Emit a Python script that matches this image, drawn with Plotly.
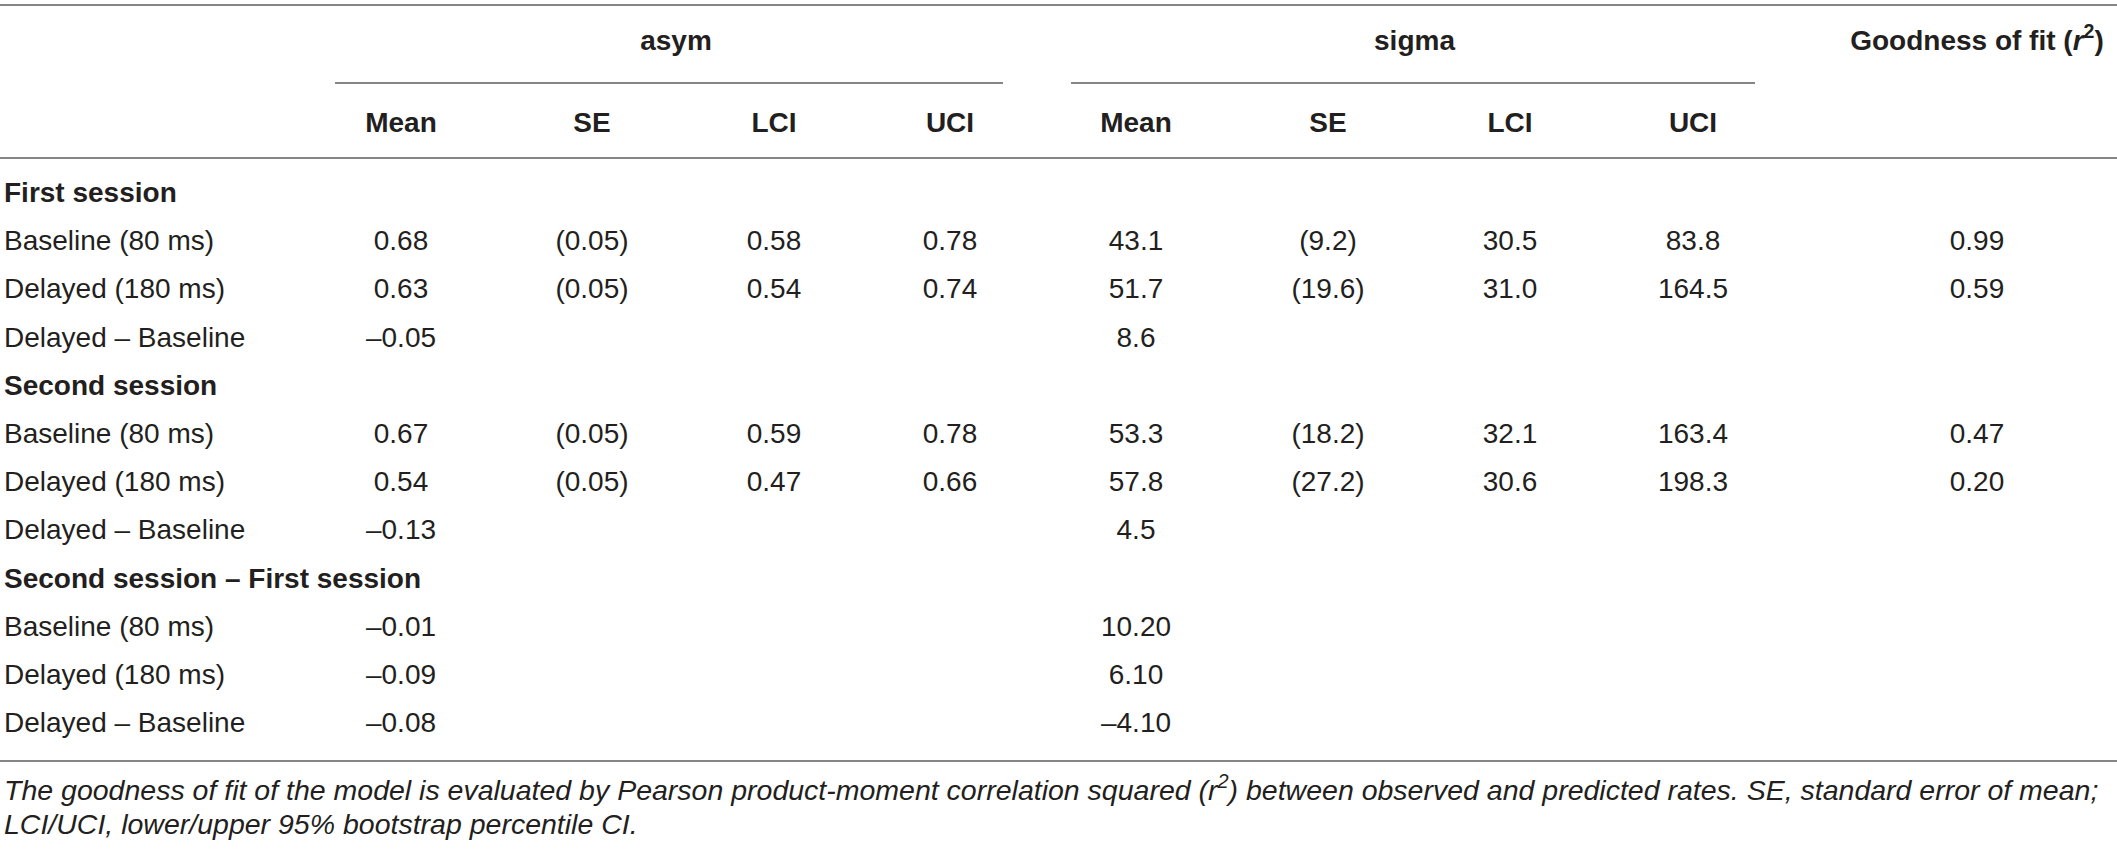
import plotly.graph_objects as go

# table content
row_labels = [
    "<b>First session</b>",
    "Baseline (80 ms)",
    "Delayed (180 ms)",
    "Delayed – Baseline",
    "<b>Second session</b>",
    "Baseline (80 ms)",
    "Delayed (180 ms)",
    "Delayed – Baseline",
    "<b>Second session – First session</b>",
    "Baseline (80 ms)",
    "Delayed (180 ms)",
    "Delayed – Baseline",
]
group_labels = ["asym", "sigma"]
sub_headers = ["Mean", "SE", "LCI", "UCI"]
gof_header = "Goodness of fit (<i>r</i><sup>2</sup>)"

asym_mean = ["", "0.68", "0.63", "–0.05", "", "0.67", "0.54", "–0.13", "", "–0.01", "–0.09", "–0.08"]
asym_se = ["", "(0.05)", "(0.05)", "", "", "(0.05)", "(0.05)", "", "", "", "", ""]
asym_lci = ["", "0.58", "0.54", "", "", "0.59", "0.47", "", "", "", "", ""]
asym_uci = ["", "0.78", "0.74", "", "", "0.78", "0.66", "", "", "", "", ""]

sigma_mean = ["", "43.1", "51.7", "8.6", "", "53.3", "57.8", "4.5", "", "10.20", "6.10", "–4.10"]
sigma_se = ["", "(9.2)", "(19.6)", "", "", "(18.2)", "(27.2)", "", "", "", "", ""]
sigma_lci = ["", "30.5", "31.0", "", "", "32.1", "30.6", "", "", "", "", ""]
sigma_uci = ["", "83.8", "164.5", "", "", "163.4", "198.3", "", "", "", "", ""]

gof = ["", "0.99", "0.59", "", "", "0.47", "0.20", "", "", "", "", ""]

footnote = [
    "<i>The goodness of fit of the model is evaluated by Pearson product-moment correlation squared "
    "(r<sup>2</sup>) between observed and predicted rates. SE, standard error of mean;</i>",
    "<i>LCI/UCI, lower/upper 95% bootstrap percentile CI.</i>",
]

# layout (pixels)
W, H = 2117, 853
FONT = "Liberation Sans"
FS = 28
INK = "#231f20"
RULE = "#858585"

label_x = 4
asym_x = [401, 592, 774, 950]
sigma_x = [1136, 1328, 1510, 1693]
gof_x = 1977
head1_y, head2_y = 43, 125
row_y0, row_step = 195, 48.2
row_y = [row_y0 + i * row_step for i in range(len(row_labels))]
foot_y = [793, 827]


def text_trace(x, y, text, pos="middle center", size=FS):
    # drop empty cells so no blank text nodes get drawn
    keep = [i for i, t in enumerate(text) if t]
    return go.Scatter(
        x=[x[i] for i in keep], y=[y[i] for i in keep], text=[text[i] for i in keep],
        mode="text", textposition=pos,
        textfont=dict(family=FONT, size=size, color=INK),
        hoverinfo="skip", showlegend=False,
    )


fig = go.Figure()

# header
fig.add_trace(text_trace([(asym_x[0] + asym_x[-1]) / 2 + 0.5, (sigma_x[0] + sigma_x[-1]) / 2],
                         [head1_y, head1_y], ["<b>%s</b>" % g for g in group_labels]))
fig.add_trace(text_trace([gof_x], [head1_y], ["<b>%s</b>" % gof_header]))
fig.add_trace(text_trace(asym_x + sigma_x, [head2_y] * 8, ["<b>%s</b>" % s for s in sub_headers] * 2))

# body
fig.add_trace(text_trace([label_x] * len(row_labels), row_y, row_labels, "middle right"))
for cx, col in zip(asym_x + sigma_x + [gof_x],
                   [asym_mean, asym_se, asym_lci, asym_uci,
                    sigma_mean, sigma_se, sigma_lci, sigma_uci, gof]):
    fig.add_trace(text_trace([cx] * len(col), row_y, col))

# footnote
fig.add_trace(text_trace([label_x] * 2, foot_y, footnote, "middle right", size=28.5))

# rules
rules = [
    (0, W, 5), (335, 1003, 83), (1071, 1755, 83), (0, W, 158), (0, W, 761),
]
for x0, x1, y in rules:
    fig.add_shape(type="line", xref="x", yref="y", x0=x0, x1=x1, y0=y, y1=y,
                  line=dict(color=RULE, width=2))

fig.update_xaxes(range=[0, W], visible=False, fixedrange=True)
fig.update_yaxes(range=[H, 0], visible=False, fixedrange=True)
fig.update_layout(
    width=W, height=H, autosize=False,
    margin=dict(l=0, r=0, t=0, b=0),
    paper_bgcolor="white", plot_bgcolor="white",
)

fig.write_html(
    "out.html",
    config={"displayModeBar": False},
    post_script="document.body.style.margin='0';document.body.style.overflow='hidden';",
)
